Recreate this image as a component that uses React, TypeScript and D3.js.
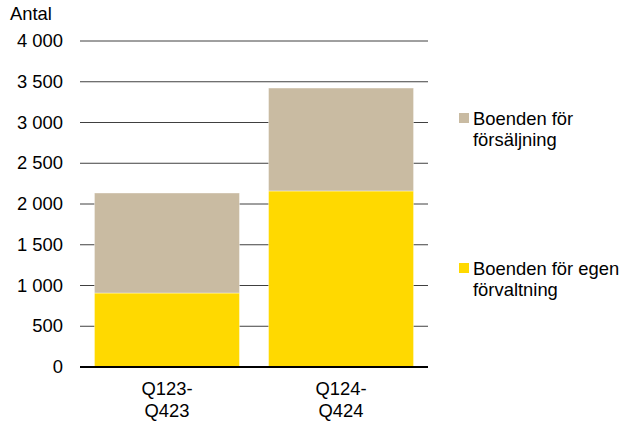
import React from "react";
import * as d3 from "d3";

const categories = [["Q123-", "Q423"], ["Q124-", "Q424"]];
const egenForvaltning = [908, 2160];
const forsaljning = [1227, 1263];
const yTicks = [0, 500, 1000, 1500, 2000, 2500, 3000, 3500, 4000];
const seriesNames = [["Boenden för", "försäljning"], ["Boenden för egen", "förvaltning"]];
const colors = { sale: "#C9BBA2", own: "#FFD900" };

const W = 630, H = 421;
const m = { left: 80, right: 428, top: 41, bottom: 367 };
const font = "'Liberation Sans', Arial, sans-serif";
const FS = 18.4;

export default function App() {
  const keys = ["own", "sale"];
  const rows = categories.map((c, i) => ({ key: i, own: egenForvaltning[i], sale: forsaljning[i] }));
  const stack = d3.stack<any>().keys(keys)(rows);
  const x = d3.scaleBand<number>().domain(rows.map((r) => r.key)).range([m.left, m.right]).paddingInner(0.167).paddingOuter(0.083);
  const y = d3.scaleLinear().domain([0, 4000]).range([m.bottom, m.top]);
  const fmt = (v: number) => d3.format(",")(v).replace(/,/g, "\u00a0");
  return (
    <svg width={W} height={H} style={{ position: "absolute", left: 0, top: 0 }} fontFamily={font}>
      <rect width={W} height={H} fill="#fff" />
      <text x={10} y={19.5} fontSize={FS} fill="#000">Antal</text>
      {yTicks.map((t) => (
        <g key={t}>
          {t !== 0 && <line x1={m.left} x2={m.right} y1={y(t)} y2={y(t)} stroke="#404040" strokeWidth={1} />}
          <text x={63} y={y(t) + 6} textAnchor="end" fontSize={FS} fill="#000">{fmt(t)}</text>
        </g>
      ))}
      {stack.map((s) => (
        <g key={s.key}>
          {s.map((d, i) => (
            <rect key={i} x={x(i)} width={x.bandwidth()} y={y(d[1])} height={y(d[0]) - y(d[1])}
              fill={(colors as any)[s.key]} stroke="#fff" strokeOpacity={0.5} strokeWidth={0.75} />
          ))}
        </g>
      ))}
      <line x1={m.left} x2={m.right} y1={y(0)} y2={y(0)} stroke="#000" strokeWidth={2} />
      {categories.map((c, i) => (
        <text key={i} x={(x(i) as number) + x.bandwidth() / 2} textAnchor="middle" fontSize={FS} fill="#000">
          <tspan x={(x(i) as number) + x.bandwidth() / 2} y={394.5}>{c[0]}</tspan>
          <tspan x={(x(i) as number) + x.bandwidth() / 2} y={416.5}>{c[1]}</tspan>
        </text>
      ))}
      {[{ name: seriesNames[0], color: colors.sale, top: 113 }, { name: seriesNames[1], color: colors.own, top: 263 }].map((l, i) => (
        <g key={i}>
          <rect x={459} y={l.top} width={10} height={10} fill={l.color} />
          <text fontSize={FS} fill="#000">
            <tspan x={473} y={l.top + 12}>{l.name[0]}</tspan>
            <tspan x={473} y={l.top + 33}>{l.name[1]}</tspan>
          </text>
        </g>
      ))}
    </svg>
  );
}
